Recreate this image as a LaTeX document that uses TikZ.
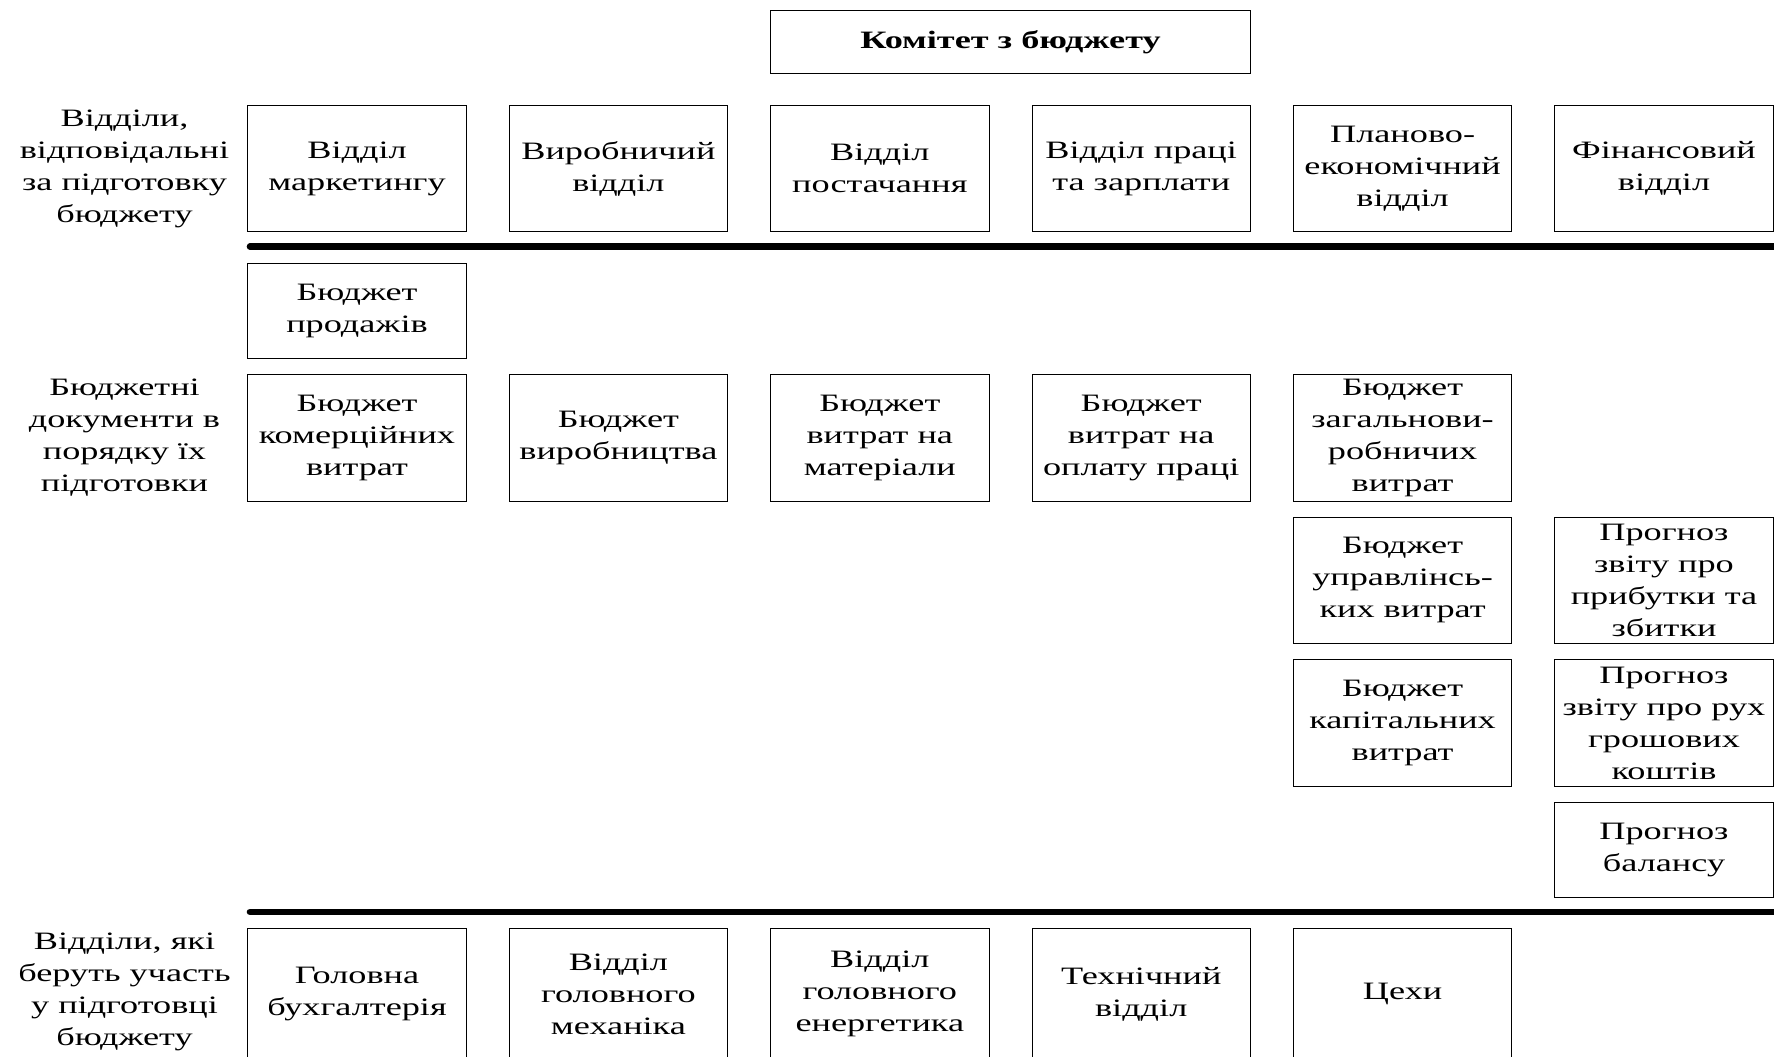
\documentclass[tikz,border=0pt]{standalone}
\usepackage{fontspec}
\setmainfont{Liberation Serif}[FakeStretch=1.45]

\begin{document}
\begin{tikzpicture}[x=0.5pt, y=-0.5pt,
    box/.style={draw, line width=0.5pt, align=center, inner sep=0pt,
        minimum width=109.2pt, minimum height=63.35pt,
        font=\fontsize{12.5}{16}\selectfont},
    smallbox/.style={box, minimum height=47.5pt},
    lbl/.style={align=center, font=\fontsize{12.5}{16}\selectfont},
    sep/.style={line width=3.3pt, line cap=round}]
    \useasboundingbox (0,0) rectangle (1774,1056);

    % Define nodes
    \node[box, minimum width=239.9pt, minimum height=31.65pt,
        font=\fontsize{12.5}{16}\selectfont\bfseries] (com) at (1010.5,41.85) {Комітет з бюджету};

    % Departments responsible
    \node[lbl] (resp) at (124.5,168.55) {Відділи,\\відповідальні\\за підготовку\\бюджету};
    \node[box] (mark) at (357.0,168.55) {Відділ\\маркетингу};
    \node[box] (prod) at (618.4,168.55) {Виробничий\\відділ};
    \node[box] (supp) at (879.8,168.55) {Відділ\\постачання};
    \node[box] (lab) at (1141.2,168.55) {Відділ праці\\та зарплати};
    \node[box] (plan) at (1402.6,168.55) {Планово-\\економічний\\відділ};
    \node[box] (fin) at (1664.0,168.55) {Фінансовий\\відділ};

    % Budget documents
    \node[lbl] (docs) at (124.5,437.85) {Бюджетні\\документи в\\порядку їх\\підготовки};
    \node[smallbox] (sales) at (357.0,311.15) {Бюджет\\продажів};
    \node[box] (comm) at (357.0,437.85) {Бюджет\\комерційних\\витрат};
    \node[box] (output) at (618.4,437.85) {Бюджет\\виробництва};
    \node[box] (mat) at (879.8,437.85) {Бюджет\\витрат на\\матеріали};
    \node[box] (wage) at (1141.2,437.85) {Бюджет\\витрат на\\оплату праці};
    \node[box] (over) at (1402.6,437.85) {Бюджет\\загальнови-\\робничих\\витрат};
    \node[box] (adm) at (1402.6,580.45) {Бюджет\\управлінсь-\\ких витрат};
    \node[box] (cap) at (1402.6,722.95) {Бюджет\\капітальних\\витрат};
    \node[box] (pl) at (1664.0,580.45) {Прогноз\\звіту про\\прибутки та\\збитки};
    \node[box] (cash) at (1664.0,722.95) {Прогноз\\звіту про рух\\грошових\\коштів};
    \node[smallbox] (bal) at (1664.0,849.7) {Прогноз\\балансу};

    % Departments taking part
    \node[lbl] (part) at (124.5,992.25) {Відділи, які\\беруть участь\\у підготовці\\бюджету};
    \node[box, minimum height=65pt] (acc) at (357.0,993.9) {Головна\\бухгалтерія};
    \node[box, minimum height=65pt] (mech) at (618.4,993.9) {Відділ\\головного\\механіка};
    \node[box, minimum height=65pt] (pow) at (879.8,993.9) {Відділ\\головного\\енергетика};
    \node[box, minimum height=65pt] (tech) at (1141.2,993.9) {Технічний\\відділ};
    \node[box, minimum height=65pt] (shop) at (1402.6,993.9) {Цехи};

    % Separating lines
    \coordinate (s1a) at (250,246.6);
    \coordinate (s1b) at (1790,246.6);
    \coordinate (s2a) at (250,911.9);
    \coordinate (s2b) at (1790,911.9);
    \draw[sep] (s1a) -- (s1b);
    \draw[sep] (s2a) -- (s2b);
\end{tikzpicture}
\end{document}
